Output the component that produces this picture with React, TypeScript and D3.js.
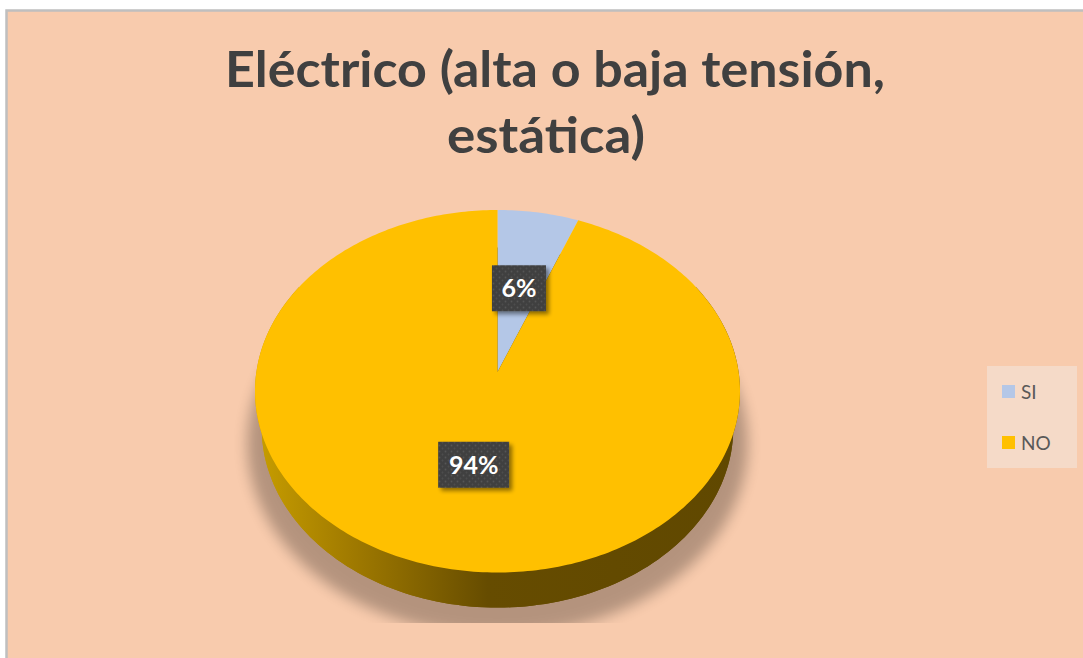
import React from "react";
import * as d3 from "d3";

const categories = ["SI", "NO"];
const values = [6, 94];
const labels = ["6%", "94%"];
const colors = ["#B4C7E7", "#FFC000"];
const titleLines = ["Eléctrico (alta o baja tensión,", "estática)"];

const W = 1083;
const H = 658;

// 3D projection parameters
const phi = (48 * Math.PI) / 180;
const cphi = Math.cos(phi);
const sphi = Math.sin(phi);
const D = 6.26;
const depthH = 0.235;

function rawProj(X: number, Y: number, Z: number): [number, number] {
  const yS = Y * cphi + Z * sphi;
  const dep = D + Z * cphi - Y * sphi;
  return [X / dep, yS / dep];
}

// fit top face into target box
const box = { x0: 255, x1: 740, y0: 210 };
const samples = d3.range(0, 361).map((a) => rawProj(Math.sin((a * Math.PI) / 180), 0, Math.cos((a * Math.PI) / 180)));
const uMin = d3.min(samples, (p) => p[0]) as number;
const uMax = d3.max(samples, (p) => p[0]) as number;
const vMax = d3.max(samples, (p) => p[1]) as number;
const K = (box.x1 - box.x0) / (uMax - uMin);
const OX = box.x0 - K * uMin;
const OY = box.y0 + K * vMax;

function proj(X: number, Y: number, Z: number): [number, number] {
  const [u, v] = rawProj(X, Y, Z);
  return [OX + K * u, OY - K * v];
}

function ringPoints(a0: number, a1: number, Y: number, r = 1, n = 120) {
  const pts: [number, number][] = [];
  for (let i = 0; i <= n; i++) {
    const a = a0 + ((a1 - a0) * i) / n;
    pts.push(proj(r * Math.sin(a), Y, r * Math.cos(a)));
  }
  return pts;
}

const toPath = (pts: [number, number][]) =>
  "M" + pts.map((p) => `${p[0].toFixed(2)},${p[1].toFixed(2)}`).join("L") + "Z";

export default function App() {
  const arcs = d3.pie<number>().sort(null).value((d) => d)(values);
  const apex = proj(0, 0, 0);

  const bottomFace = toPath(ringPoints(0, 2 * Math.PI, -depthH, 1, 240));
  const sideTop = ringPoints((60 * Math.PI) / 180, (300 * Math.PI) / 180, 0, 1, 160);
  const sideBot = ringPoints((300 * Math.PI) / 180, (60 * Math.PI) / 180, -depthH, 1, 160);
  const sidePath = toPath([...sideTop, ...sideBot]);

  const shadowPts = ringPoints(0, 2 * Math.PI, -depthH, 1.06, 240).map(
    (p) => [p[0], p[1] + 14] as [number, number]
  );
  const shadowPath = toPath(shadowPts);

  const slicePaths = arcs.map((a) =>
    toPath([apex, ...ringPoints(a.startAngle, a.endAngle, 0, 1, Math.max(8, Math.round((a.endAngle - a.startAngle) * 60)))])
  );

  const labelPos = arcs.map((a) => {
    const m = (a.startAngle + a.endAngle) / 2;
    return proj(0.5 * Math.sin(m), 0, 0.5 * Math.cos(m));
  });

  const titleFont = "Lato, 'Open Sans', sans-serif";

  return (
    <svg
      width={W}
      height={H}
      viewBox={`0 0 ${W} ${H}`}
      style={{ position: "fixed", left: 0, top: 0, background: "#ffffff" }}
    >
      <defs>
        <linearGradient id="sideGrad" gradientUnits="userSpaceOnUse" x1={box.x0} y1={0} x2={box.x1} y2={0}>
          <stop offset="0" stopColor="#C89E00" />
          <stop offset="0.2" stopColor="#A07A00" />
          <stop offset="0.48" stopColor="#664C00" />
          <stop offset="1" stopColor="#604800" />
        </linearGradient>
        <filter id="shadowBlur" x="-20%" y="-20%" width="140%" height="140%">
          <feGaussianBlur stdDeviation="7" />
        </filter>
        <filter id="labelShadow" x="-30%" y="-30%" width="160%" height="160%">
          <feGaussianBlur in="SourceAlpha" stdDeviation="2" />
          <feOffset dx="3" dy="3" result="o" />
          <feComponentTransfer>
            <feFuncA type="linear" slope="0.45" />
          </feComponentTransfer>
          <feMerge>
            <feMergeNode />
            <feMergeNode in="SourceGraphic" />
          </feMerge>
        </filter>
        <pattern id="dots" width="6" height="6" patternUnits="userSpaceOnUse">
          <rect width="6" height="6" fill="#404040" />
          <circle cx="1.5" cy="1.5" r="0.9" fill="#565656" />
          <circle cx="4.5" cy="4.5" r="0.9" fill="#4E4E4E" />
        </pattern>
        <clipPath id="plotClip">
          <rect x={8} y={12} width={W} height={611} />
        </clipPath>
      </defs>

      <rect x={6.5} y={10.5} width={W + 10} height={H + 10} fill="#F8CBAD" stroke="#BFBFBF" strokeWidth={2.5} />

      {/* Title */}
      <g fontFamily={titleFont} fontWeight="bold" fill="#404040" fontSize={50}>
        <text x={555} y={87} textAnchor="middle" textLength={660} lengthAdjust="spacingAndGlyphs">
          {titleLines[0]}
        </text>
        <text x={546} y={153} textAnchor="middle" textLength={198} lengthAdjust="spacingAndGlyphs">
          {titleLines[1]}
        </text>
      </g>

      {/* Shadow */}
      <g clipPath="url(#plotClip)">
        <path d={shadowPath} fill="#000" opacity={0.27} filter="url(#shadowBlur)" />
      </g>

      {/* Pie body */}
      <path d={bottomFace} fill="url(#sideGrad)" />
      <path d={sidePath} fill="url(#sideGrad)" />
      {slicePaths.map((d, i) => (
        <path key={categories[i]} d={d} fill={colors[i]} />
      ))}

      {/* Data labels */}
      {labelPos.map((p, i) => {
        const bw = 20 + labels[i].length * 17;
        const bh = 46;
        return (
          <g key={"lbl" + i}>
            <rect x={p[0] - bw / 2} y={p[1] - bh / 2} width={bw} height={bh} fill="url(#dots)" filter="url(#labelShadow)" />
            <text
              x={p[0]}
              y={p[1]}
              dy="0.36em"
              textAnchor="middle"
              fontFamily={titleFont}
              fontWeight="bold"
              fontSize={25}
              fill="#ffffff"
            >
              {labels[i]}
            </text>
          </g>
        );
      })}

      {/* Legend */}
      <g>
        <rect x={987} y={366} width={90} height={102} fill="#F5DAC8" />
        {categories.map((c, i) => (
          <g key={"leg" + c} transform={`translate(1002, ${392 + i * 51})`}>
            <rect x={0} y={-7} width={13} height={13} fill={colors[i]} />
            <text x={19} y={0} dy="0.36em" fontFamily="Lato, 'Open Sans', sans-serif" fontSize={19} fill="#595959">
              {c}
            </text>
          </g>
        ))}
      </g>
    </svg>
  );
}
